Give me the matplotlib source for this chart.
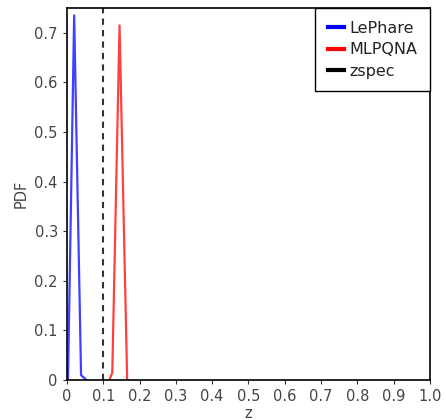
import matplotlib.pyplot as plt

# PDF values
z_lephare = [0.003, 0.02, 0.039, 0.054]
pdf_lephare = [0.0, 0.735, 0.01, 0.0]
z_mlpqna = [0.117, 0.125, 0.145, 0.166]
pdf_mlpqna = [0.0, 0.015, 0.715, 0.0]
zspec = 0.1

xticks = [0, 0.1, 0.2, 0.3, 0.4, 0.5, 0.6, 0.7, 0.8, 0.9, 1.0]
xticklabels = ['0', '0.1', '0.2', '0.3', '0.4', '0.5', '0.6', '0.7', '0.8', '0.9', '1.0']
yticks = [0, 0.1, 0.2, 0.3, 0.4, 0.5, 0.6, 0.7]
yticklabels = ['0', '0.1', '0.2', '0.3', '0.4', '0.5', '0.6', '0.7']

fig = plt.figure(figsize=(4.46, 4.2), dpi=100)
ax = fig.add_axes([0.150, 0.095, 0.814, 0.886])

ax.plot(z_lephare, pdf_lephare, color='blue', lw=1.6, alpha=0.75, label='LePhare')
ax.plot(z_mlpqna, pdf_mlpqna, color='red', lw=1.6, alpha=0.75, label='MLPQNA')
ax.axvline(zspec, color='#333333', lw=1.5, ls=(0, (3, 2.5)), label='zspec')

ax.set_xlim(0, 1.0)
ax.set_ylim(0, 0.75)
ax.set_xticks(xticks)
ax.set_xticklabels(xticklabels)
ax.set_yticks(yticks)
ax.set_yticklabels(yticklabels)
ax.tick_params(labelsize=10.5, length=3, colors='#333333', labelcolor='#444444')
for s in ax.spines.values():
    s.set_linewidth(1.2)

ax.set_xlabel('z', fontsize=10.5, color='#444444', labelpad=1)
ax.set_ylabel('PDF', fontsize=10.5, color='#444444')

leg = ax.legend(loc='upper right', fontsize=11.5, handlelength=1.0, fancybox=False,
                framealpha=1, edgecolor='black', borderaxespad=0.0,
                handletextpad=0.35, borderpad=0.8, labelspacing=0.4)
leg.get_frame().set_linewidth(1.0)
for line in leg.get_lines():
    line.set_linewidth(3)
    line.set_linestyle('-')
    line.set_alpha(1)
leg.get_lines()[2].set_color('black')
for t in leg.get_texts():
    t.set_color('#222222')

fig.savefig('out.png', dpi=100)
